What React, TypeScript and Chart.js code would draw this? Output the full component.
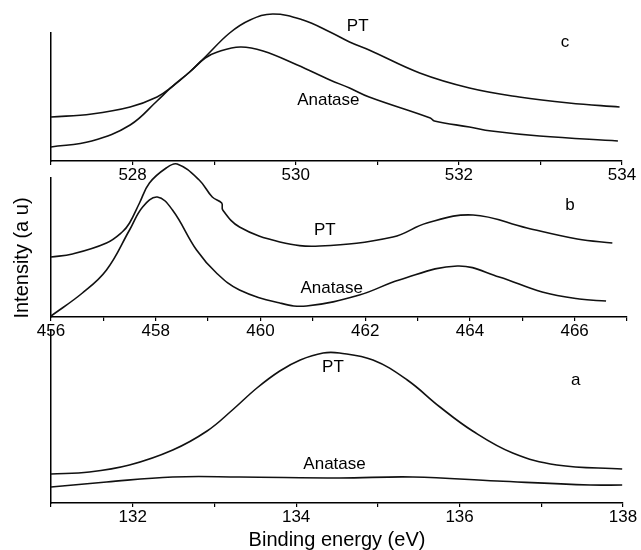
import React, { useEffect, useRef } from 'react';
import { Chart, registerables } from 'chart.js';

Chart.register(...registerables);

const FONT = '"Liberation Sans", Arial, Helvetica, sans-serif';
const W = 641;
const H = 550;

// ---------- Panel c (O 1s) ----------
const cPtEnergy = [527.0, 527.5, 527.97, 528.3, 528.48, 528.7, 528.89, 529.19, 529.44, 529.72, 530.09, 530.42, 530.66, 530.9, 531.52, 532.13, 532.74, 533.35, 533.97];
const cPtIntensity = [44, 47, 54, 64, 74, 89, 104, 128, 141, 147, 141, 129, 119, 111, 88, 73, 64, 58, 54];
const cAnEnergy = [527.0, 527.5, 527.97, 528.3, 528.48, 528.7, 528.89, 529.04, 529.32, 529.6, 530.02, 530.42, 530.66, 530.9, 531.65, 531.7, 532.13, 532.4, 532.99, 533.95];
const cAnIntensity = [14, 20, 36, 60, 74, 89, 103, 109, 114, 110, 96, 81, 73, 64, 43, 40, 34, 30, 25, 20];
const cTickLabels = [528, 530, 532, 534];

// ---------- Panel b (Ti 2p) ----------
const bPtEnergy = [456.0, 456.41, 457.06, 457.36, 457.5, 457.69, 457.88, 458.2, 458.41, 458.83, 459.08, 459.26, 459.28, 459.6, 460.37, 461.13, 462.53, 463.18, 464.06, 465.09, 466.05, 466.72];
const bPtIntensity = [60, 63, 74, 85, 94, 114, 134, 149, 153, 137, 120, 114, 107, 90, 75, 71, 80, 94, 102, 89, 78, 74];
const bAnEnergy = [456.0, 456.6, 457.06, 457.5, 457.75, 458.03, 458.32, 458.78, 459.16, 459.6, 460.37, 460.88, 461.89, 462.65, 463.76, 464.56, 465.38, 466.09, 466.6];
const bAnIntensity = [1, 24, 47, 87, 110, 120, 107, 67, 44, 27, 14, 11, 22, 37, 51, 40, 25, 18, 16];
const bTickLabels = [456, 458, 460, 462, 464, 466];

// ---------- Panel a (S 2p) ----------
const aPtEnergy = [131.0, 131.47, 131.96, 132.49, 132.91, 133.22, 133.52, 133.8, 134.05, 134.33, 134.53, 134.94, 135.36, 135.76, 136.16, 136.65, 137.19, 137.99];
const aPtIntensity = [29, 31, 38, 53, 72, 93, 115, 132, 143, 150, 150, 143, 123, 96, 72, 50, 38, 34];
const aAnEnergy = [131.0, 131.68, 132.49, 133.31, 134.53, 135.43, 136.46, 137.6, 137.99];
const aAnIntensity = [16, 21, 26, 26, 25, 26, 22, 18, 18];
const aTickLabels = [132, 134, 136, 138];

// ---------- Curve labels (data coordinates) ----------
const cNotes = [
  { text: 'PT', x: 530.76, y: 135 },
  { text: 'Anatase', x: 530.4, y: 61 },
  { text: 'c', x: 533.3, y: 119 },
];
const bNotes = [
  { text: 'PT', x: 461.23, y: 87 },
  { text: 'Anatase', x: 461.36, y: 28.5 },
  { text: 'b', x: 465.91, y: 112 },
];
const aNotes = [
  { text: 'PT', x: 134.45, y: 136 },
  { text: 'Anatase', x: 134.47, y: 39 },
  { text: 'a', x: 137.42, y: 123 },
];

const zip = (xs: number[], ys: number[]) => xs.map((x, i) => ({ x, y: ys[i] }));

type Note = { text: string; x: number; y: number };
type PanelDef = {
  id: string;
  xMin: number;
  xMax: number;
  yMax: number;
  pad: { left: number; right: number; top: number; bottom: number };
  xHeight: number;
  series: Array<[number[], number[]]>;
  ticks: number[];
  notes: Note[];
  xTitle?: string;
  yTitle?: string;
};

const panels: PanelDef[] = [
  {
    id: 'c', xMin: 527, xMax: 534, yMax: 128,
    pad: { left: 51, right: 19, top: 33, bottom: 359 }, xHeight: 30,
    series: [[cPtEnergy, cPtIntensity], [cAnEnergy, cAnIntensity]],
    ticks: cTickLabels, notes: cNotes,
  },
  {
    id: 'b', xMin: 456, xMax: 467, yMax: 139,
    pad: { left: 51, right: 14, top: 178, bottom: 203 }, xHeight: 30,
    series: [[bPtEnergy, bPtIntensity], [bAnEnergy, bAnIntensity]],
    ticks: bTickLabels, notes: bNotes, yTitle: 'Intensity (a u)',
  },
  {
    id: 'a', xMin: 131, xMax: 138, yMax: 173,
    pad: { left: 51, right: 18, top: 330, bottom: 0 }, xHeight: 47,
    series: [[aPtEnergy, aPtIntensity], [aAnEnergy, aAnIntensity]],
    ticks: aTickLabels, notes: aNotes, xTitle: 'Binding energy (eV)',
  },
];

function Panel({ def }: { def: PanelDef }) {
  const ref = useRef<HTMLCanvasElement | null>(null);
  useEffect(() => {
    if (!ref.current) return;
    const notesPlugin = {
      id: 'notes_' + def.id,
      afterDatasetsDraw(chart: any) {
        const { ctx, scales } = chart;
        ctx.save();
        ctx.fillStyle = '#000';
        ctx.textAlign = 'center';
        ctx.textBaseline = 'middle';
        ctx.font = `17px ${FONT}`;
        for (const n of def.notes) {
          ctx.fillText(n.text, scales.x.getPixelForValue(n.x), scales.y.getPixelForValue(n.y));
        }
        if (def.yTitle) {
          ctx.save();
          ctx.translate(chart.chartArea.left - 29, 258);
          ctx.rotate(-Math.PI / 2);
          ctx.font = `20px ${FONT}`;
          ctx.fillText(def.yTitle, 0, 0);
          ctx.restore();
        }
        ctx.restore();
      },
    };
    const chart = new Chart(ref.current, {
      type: 'line',
      data: {
        datasets: def.series.map(([xs, ys]) => ({
          data: zip(xs, ys),
          borderColor: '#111',
          borderWidth: 1.6,
          pointRadius: 0,
          fill: false,
          tension: 0.4,
          clip: false as any,
        })),
      },
      options: {
        responsive: false,
        animation: false,
        events: [],
        layout: { padding: def.pad },
        plugins: { legend: { display: false }, tooltip: { enabled: false }, title: { display: false } },
        scales: {
          x: {
            type: 'linear',
            min: def.xMin,
            max: def.xMax,
            afterFit: (s: any) => { s.height = def.xHeight; },
            ticks: {
              stepSize: 1,
              autoSkip: false,
              maxRotation: 0,
              padding: 0,
              color: '#000',
              font: { family: FONT, size: 17 },
              callback: (v: any) => (def.ticks.includes(Number(v)) ? String(v) : ''),
            },
            grid: { display: true, drawOnChartArea: false, drawTicks: true, tickLength: 4, color: '#000', lineWidth: 1.2 },
            border: { display: true, color: '#000', width: 1.5 },
            title: def.xTitle
              ? { display: true, text: def.xTitle, color: '#000', font: { family: FONT, size: 20, lineHeight: 1 }, padding: 0 }
              : { display: false },
          },
          y: {
            type: 'linear',
            min: 0,
            max: def.yMax,
            afterFit: (s: any) => { s.width = 0; },
            ticks: { display: false },
            grid: { display: false },
            border: { display: true, color: '#000', width: 1.5 },
          },
        },
      } as any,
      plugins: [notesPlugin],
    });
    return () => chart.destroy();
  }, [def]);
  return (
    <canvas
      ref={ref}
      width={W}
      height={H}
      style={{ position: 'absolute', left: 0, top: 0, width: W, height: H }}
    />
  );
}

export default function App() {
  return (
    <div style={{ position: 'fixed', left: 0, top: 0, width: W, height: H, background: '#fff' }}>
      {panels.map((p) => (
        <Panel key={p.id} def={p} />
      ))}
    </div>
  );
}
